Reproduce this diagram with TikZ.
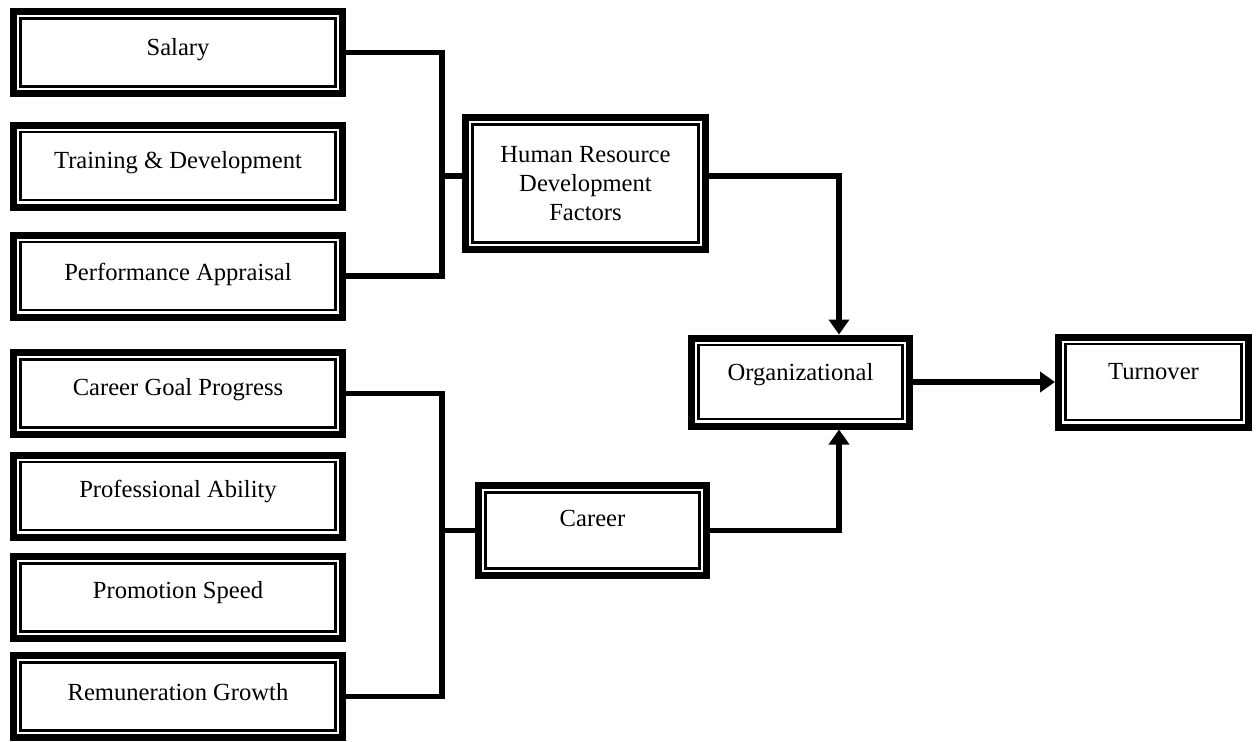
\documentclass[tikz,border=0pt]{standalone}
\usepackage{fontspec}
\setmainfont{Liberation Serif}
\usetikzlibrary{arrows.meta}

\tikzset{
  factor/.style={draw, line width=3.5pt, inner sep=0pt, align=center,
    font=\fontsize{12.3}{14.5}\selectfont,
    append after command={\pgfextra{\let\boxnode=\tikzlastnode
      \draw[line width=1.1pt] ([shift={(5.25pt,5.25pt)}]\boxnode.south west)
        rectangle ([shift={(-5.25pt,-5.25pt)}]\boxnode.north east);}}},
  side/.style={factor, minimum width=164.5pt, minimum height=41pt},
  tx/.style 2 args={text height=#1, text depth=#2},
  link/.style={line width=2.9pt},
  flow/.style={line width=2.9pt, -{Triangle[width=10pt,length=7.5pt]}}
}

\begin{document}
\begin{tikzpicture}[x=0.5pt, y=-0.5pt]
\useasboundingbox (0,0) rectangle (1256,741);

% left column
\node[side, tx={2.5pt}{0pt}] (salary) at (178,52.5) {Salary};
\node[side, tx={2pt}{0pt}] (train) at (178,166) {Training \& Development};
\node[side, tx={4pt}{0pt}] (perf) at (178,276) {Performance Appraisal};
\node[side, tx={1.5pt}{0pt}] (cgp) at (178,393.5) {Career Goal Progress};
\node[side, tx={1.5pt}{0pt}] (prof) at (178,496) {Professional Ability};
\node[side, tx={1pt}{0pt}] (promo) at (178,597.5) {Promotion Speed};
\node[side, tx={4pt}{0pt}] (remun) at (178,696.5) {Remuneration Growth};

% middle and right
\node[factor, minimum width=120pt, minimum height=66pt] (hrd) at (585.5,183.5) {Human Resource\\Development\\Factors};
\node[factor, minimum width=114pt, minimum height=45pt, tx={0pt}{4pt}] (career) at (592.5,530.5) {Career};
\node[factor, minimum width=109pt, minimum height=44pt, tx={0pt}{2pt}] (org) at (800.5,382) {Organizational};
\node[factor, minimum width=95pt, minimum height=45pt, tx={0pt}{3pt}] (turn) at (1153.5,382) {Turnover};

\coordinate (upbar) at (442,0);
\coordinate (lowbar) at (442,0);
\coordinate (drop) at (839,0);
\coordinate (hrdin) at ([yshift=3.75pt]hrd.west);
\coordinate (hrdout) at ([yshift=3.75pt]hrd.east);

% brackets
\draw[link] (salary.east) -| (upbar |- perf.east) -- (perf.east);
\draw[link] (hrdin) -- (hrdin -| upbar);
\draw[link] (cgp.east) -| (lowbar |- remun.east) -- (remun.east);
\draw[link] (career.west) -- (career.west -| lowbar);

% arrows
\draw[flow] (hrdout) -| (drop |- org.north);
\draw[flow] (career.east) -| (drop |- org.south);
\draw[flow] (org.east) -- (turn.west);
\end{tikzpicture}
\end{document}
